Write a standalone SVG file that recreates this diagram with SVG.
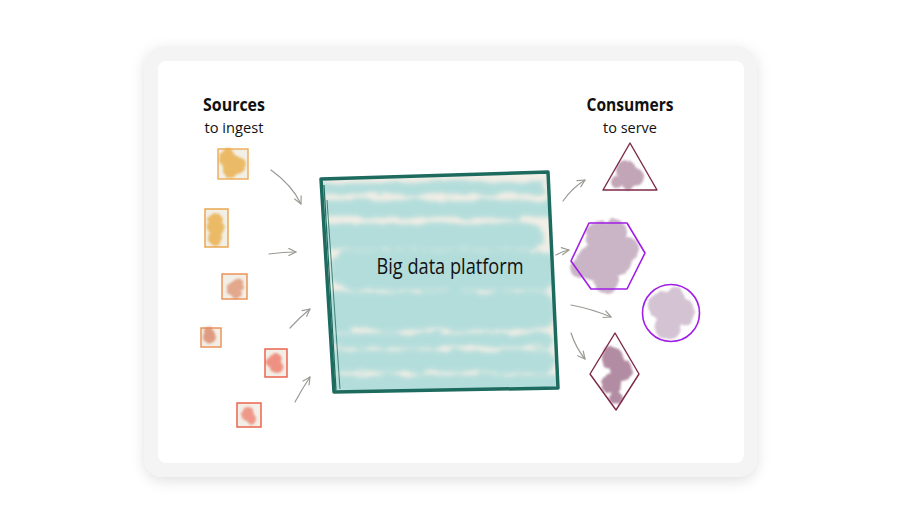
<svg xmlns="http://www.w3.org/2000/svg" width="901" height="523" viewBox="0 0 901 523">
<style>
.lbl{font-family:"Open Sans","Noto Sans","Liberation Sans",sans-serif;fill:#111;}
.h{font-weight:700;font-size:17px;}
.s{font-size:14px;}
.arr{fill:none;stroke:#9a9a94;stroke-width:1.2;stroke-linecap:round;marker-end:url(#ah);}
.box{fill:#f2efe7;stroke-width:1.4;}
.maroon{fill:none;stroke:#7c2a48;stroke-width:1.4;stroke-linejoin:round;}
.purple{fill:none;stroke:#a11ee6;stroke-width:1.6;stroke-linejoin:round;}
</style>
<defs>
<filter id="shadow" x="-10%" y="-10%" width="120%" height="125%">
<feDropShadow dx="0" dy="4" stdDeviation="7" flood-color="#000" flood-opacity="0.12"/>
</filter>
<filter id="wc" x="-30%" y="-30%" width="160%" height="160%">
<feTurbulence type="fractalNoise" baseFrequency="0.1" numOctaves="2" seed="3"/>
<feDisplacementMap in="SourceGraphic" scale="5" xChannelSelector="R" yChannelSelector="G"/>
<feGaussianBlur stdDeviation="1.3"/>
</filter>
<filter id="wc2" x="-10%" y="-30%" width="120%" height="160%">
<feTurbulence type="fractalNoise" baseFrequency="0.04 0.2" numOctaves="2" seed="7"/>
<feDisplacementMap in="SourceGraphic" scale="10" xChannelSelector="R" yChannelSelector="G"/>
<feGaussianBlur stdDeviation="2.2"/>
</filter>
<marker id="ah" viewBox="0 0 10 10" refX="9" refY="5" markerWidth="9" markerHeight="9" markerUnits="userSpaceOnUse" orient="auto">
<path d="M1,1 L9,5 L1,9" fill="none" stroke="#9a9a94" stroke-width="1.3" stroke-linecap="round" stroke-linejoin="round"/>
</marker>
<clipPath id="pclip"><polygon points="321,179 548,172 558,388 334,392"/></clipPath>
</defs>

<g id="card">
<rect x="144" y="46" width="613" height="431" rx="20" fill="#f4f4f4" filter="url(#shadow)"/>
<rect x="158" y="61" width="586" height="402" rx="8" fill="#ffffff"/>
</g>

<g id="sources-label">
<text class="lbl h" x="234" y="111" text-anchor="middle" textLength="62" lengthAdjust="spacingAndGlyphs">Sources</text>
<text class="lbl s" x="234" y="133" text-anchor="middle" textLength="59" lengthAdjust="spacingAndGlyphs">to ingest</text>
</g>
<g id="consumers-label">
<text class="lbl h" x="630" y="111" text-anchor="middle" textLength="87" lengthAdjust="spacingAndGlyphs">Consumers</text>
<text class="lbl s" x="630" y="133" text-anchor="middle" textLength="54" lengthAdjust="spacingAndGlyphs">to serve</text>
</g>

<g id="src1">
<rect class="box" x="218" y="149" width="30" height="30" stroke="#eeaa55"/>
<g filter="url(#wc)" fill="#e9a93c" opacity="0.75"><circle cx="228" cy="160" r="9"/><circle cx="237" cy="165" r="9"/><circle cx="231" cy="170" r="8"/><circle cx="228" cy="153" r="5"/></g>
</g>
<g id="src2">
<rect class="box" x="205" y="209" width="23" height="38" stroke="#e9a245"/>
<g filter="url(#wc)" fill="#e9a93c" opacity="0.75"><circle cx="215" cy="219" r="7"/><circle cx="216" cy="229" r="8"/><circle cx="215" cy="238" r="7"/></g>
</g>
<g id="src3">
<rect class="box" x="222" y="274" width="25" height="25" stroke="#ec8d4f"/>
<g filter="url(#wc)" fill="#dd8a66" opacity="0.7"><circle cx="237" cy="285" r="7"/><circle cx="232" cy="289" r="6"/><circle cx="236" cy="293" r="5"/></g>
</g>
<g id="src4">
<rect class="box" x="201" y="328" width="20" height="19" stroke="#ec8d4f"/>
<g filter="url(#wc)" fill="#d9805f" opacity="0.75"><circle cx="210" cy="337" r="7"/><circle cx="208" cy="330" r="4"/></g>
</g>
<g id="src5">
<rect class="box" x="265" y="349" width="22" height="28" stroke="#ea5a45"/>
<g filter="url(#wc)" fill="#ee6b58" opacity="0.7"><circle cx="275" cy="360" r="7"/><circle cx="277" cy="367" r="7"/><circle cx="270" cy="362" r="4"/></g>
</g>
<g id="src6">
<rect class="box" x="237" y="403" width="24" height="24" stroke="#ea5a45"/>
<g filter="url(#wc)" fill="#ee6b58" opacity="0.65"><circle cx="248" cy="414" r="7"/><circle cx="251" cy="418" r="6"/></g>
</g>

<g id="platform">
<polygon points="321,179 548,172 558,388 334,392" fill="#f1eee6"/>
<g clip-path="url(#pclip)">
<g filter="url(#wc2)" fill="#a9dad9" opacity="0.85">
<rect x="315" y="182" width="230" height="12" rx="6"/>
<rect x="322" y="200" width="235" height="18" rx="9"/>
<rect x="318" y="223" width="225" height="26" rx="12"/>
<rect x="330" y="250" width="230" height="40" rx="18"/>
<rect x="320" y="292" width="235" height="38" rx="16"/>
<rect x="318" y="333" width="235" height="14" rx="7"/>
<rect x="330" y="350" width="225" height="22" rx="10"/>
<rect x="320" y="375" width="240" height="20" rx="9"/>
</g>
</g>
<path d="M321,179 L548,172 L558,388 L334,392 Z" fill="none" stroke="#1d6b5f" stroke-width="3.5" stroke-linejoin="round"/>
<path d="M324,185 L336,390" fill="none" stroke="#1d6b5f" stroke-width="1.2"/>
<path d="M327,200 L340,389" fill="none" stroke="#1d6b5f" stroke-width="0.8"/>
<text class="lbl" x="450" y="274" text-anchor="middle" font-size="22" font-weight="500" textLength="147" lengthAdjust="spacingAndGlyphs">Big data platform</text>
</g>

<g id="con-triangle">
<g filter="url(#wc)" fill="#9a6a86" opacity="0.6"><circle cx="626" cy="170" r="10"/><circle cx="635" cy="177" r="9"/><circle cx="628" cy="183" r="7"/><circle cx="617" cy="182" r="6"/></g>
<polygon class="maroon" points="630,143 657,190 603,190"/>
</g>
<g id="con-hexagon">
<g filter="url(#wc)" fill="#a07a98" opacity="0.55"><circle cx="600" cy="236" r="15"/><circle cx="614" cy="232" r="13"/><circle cx="596" cy="262" r="19"/><circle cx="616" cy="258" r="17"/><circle cx="606" cy="280" r="13"/><circle cx="580" cy="268" r="10"/><circle cx="628" cy="248" r="11"/></g>
<polygon class="purple" points="589,223 627,223 645,253 627,289 591,289 571,261"/>
</g>
<g id="con-circle">
<g filter="url(#wc)" fill="#a989a8" opacity="0.5"><circle cx="662" cy="305" r="14"/><circle cx="680" cy="312" r="15"/><circle cx="668" cy="326" r="13"/><circle cx="676" cy="296" r="9"/></g>
<circle cx="671" cy="313" r="28.5" fill="none" stroke="#a11ee6" stroke-width="1.6"/>
</g>
<g id="con-diamond">
<g filter="url(#wc)" fill="#8a4f71" opacity="0.65"><circle cx="612" cy="358" r="11"/><circle cx="621" cy="370" r="11"/><circle cx="612" cy="384" r="10"/><circle cx="616" cy="398" r="7"/></g>
<polygon class="maroon" points="615,333 639,374 616,410 590,374"/>
</g>

<g id="connectors">
<path class="arr" d="M271,170 Q292,185 301,204"/>
<path class="arr" d="M269,254 Q283,252 296,252"/>
<path class="arr" d="M290,328 Q300,317 310,309"/>
<path class="arr" d="M295,402 Q302,389 310,377"/>
<path class="arr" d="M563,201 Q572,188 585,180"/>
<path class="arr" d="M556,255 Q563,251 569,250"/>
<path class="arr" d="M571,305 Q592,309 611,317"/>
<path class="arr" d="M571,333 Q576,348 585,359"/>
</g>
</svg>
